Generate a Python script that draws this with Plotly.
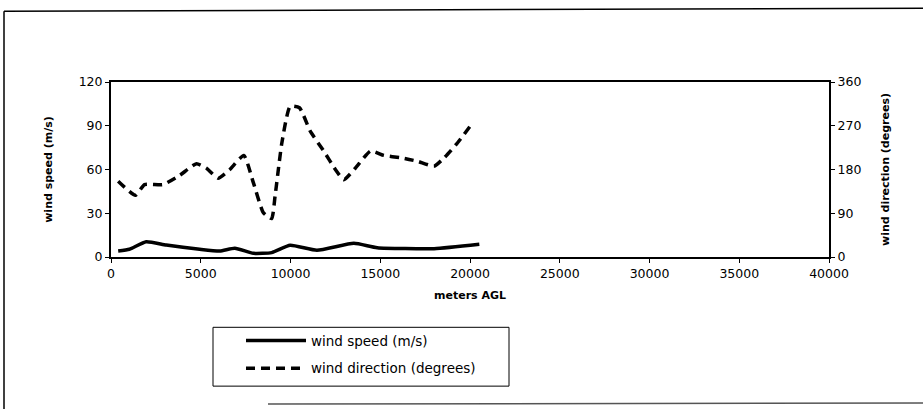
import plotly.graph_objects as go

# data
dir_alt = [400, 1360, 1870, 2890, 3830, 4760, 5300, 5970, 6620, 7400, 7930, 8490, 8950, 9140, 9520,
           9980, 10500, 11100, 11850, 12500, 12970, 13620, 14460, 15200, 16140, 17070, 18000, 18560, 19310, 20150]
dir_deg = [156, 127, 149, 149, 168, 192, 183, 162, 180, 209, 153, 91, 79, 125, 235,
           310, 307, 259, 218, 180, 159, 183, 218, 209, 204, 197, 187, 204, 235, 276]

spd_alt = [400, 1030, 1960, 3080, 4940, 6060, 6900, 7930, 8950, 9980, 11470, 13530, 14830, 18000, 20520]
spd_ms = [4.1, 5.3, 10.5, 8.2, 5.3, 4.1, 6.0, 2.5, 3.0, 8.0, 4.6, 9.4, 6.4, 5.7, 8.7]

x_ticks = [0, 5000, 10000, 15000, 20000, 25000, 30000, 35000, 40000]
y1_ticks = [0, 30, 60, 90, 120]
y2_ticks = [0, 90, 180, 270, 360]

W, H = 923, 410
L, R, T, B = 111, 829, 82, 257.5

def px(x):
    return (x - L) / (R - L)

def py(y):
    return (B - y) / (B - T)

FONT = "DejaVu Sans, sans-serif"

fig = go.Figure()
fig.add_trace(go.Scatter(x=spd_alt, y=spd_ms, mode="lines", name="wind speed (m/s)",
                         legendgroup="a",
                         line=dict(color="black", width=3.5, shape="spline", smoothing=0.5),
                         yaxis="y"))
fig.add_trace(go.Scatter(x=dir_alt, y=dir_deg, mode="lines", name="wind direction (degrees)",
                         legendgroup="b",
                         line=dict(color="black", width=3.5, dash="9px,6px", shape="spline", smoothing=0.5),
                         yaxis="y2"))

axis_common = dict(showline=True, linecolor="black", linewidth=2, ticks="outside", ticklen=4,
                   tickcolor="black", showgrid=False, zeroline=False,
                   tickfont=dict(family=FONT, size=12.5, color="black"))

fig.update_layout(
    width=W, height=H,
    margin=dict(l=L, r=W - R, t=T, b=H - B, autoexpand=False),
    paper_bgcolor="white", plot_bgcolor="white",
    font=dict(family=FONT, color="black"),
    xaxis=dict(range=[0, 40000], tickvals=x_ticks, tickformat="d", mirror=True,
               title=dict(text="<b>meters AGL</b>", font=dict(family=FONT, size=11), standoff=11),
               **axis_common),
    yaxis=dict(range=[0, 120], tickvals=y1_ticks,
               title=dict(text="<b>wind speed (m/s)</b>", font=dict(family=FONT, size=11), standoff=24),
               **axis_common),
    yaxis2=dict(range=[0, 360], tickvals=y2_ticks, overlaying="y", side="right",
                title=dict(text="<b>wind direction (degrees)</b>", font=dict(family=FONT, size=11), standoff=21),
                **axis_common),
    showlegend=True,
    legend=dict(x=px(241), y=py(326), xanchor="left", yanchor="top",
                bgcolor="rgba(0,0,0,0)", borderwidth=0, itemwidth=60,
                traceorder="grouped", tracegroupgap=7,
                font=dict(family=FONT, size=13.5, color="black")),
)

# legend box
fig.add_shape(type="rect", xref="paper", yref="paper",
              x0=px(213), x1=px(509), y0=py(328), y1=py(387),
              line=dict(color="black", width=1), fillcolor="rgba(0,0,0,0)")
# outer frame (scanned page)
fig.add_shape(type="line", xref="paper", yref="paper", x0=px(4), x1=px(4), y0=py(11), y1=py(410),
              line=dict(color="black", width=1.5))
fig.add_shape(type="line", xref="paper", yref="paper", x0=px(4), x1=px(923), y0=py(11), y1=py(8),
              line=dict(color="black", width=1.5))
fig.add_shape(type="line", xref="paper", yref="paper", x0=px(268), x1=px(923), y0=py(405), y1=py(404),
              line=dict(color="#555555", width=1.5))

fig.write_html("out.html", config={"displayModeBar": False},
               post_script="document.body.style.margin='0';document.body.style.overflow='hidden';")
